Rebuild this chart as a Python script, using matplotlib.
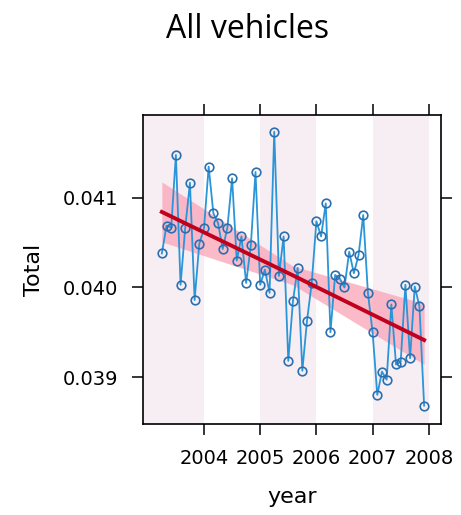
import numpy as np
import matplotlib
matplotlib.use("Agg")
import matplotlib.pyplot as plt

# ---- data (monthly means, Apr 2003 .. Dec 2007) ----
start_year = 2003.25
total = [
    0.04038, 0.04069, 0.04067, 0.04148, 0.04003, 0.04067, 0.04117, 0.03986, 0.04049, 0.04066,
    0.04135, 0.04083, 0.04072, 0.04043, 0.04067, 0.04122, 0.04030, 0.04057, 0.04005, 0.04047,
    0.04129, 0.04003, 0.04020, 0.03994, 0.04174, 0.04013, 0.04057, 0.03918, 0.03985, 0.04022,
    0.03907, 0.03963, 0.04005, 0.04074, 0.04057, 0.04094, 0.03950, 0.04014, 0.04010, 0.04000,
    0.04040, 0.04016, 0.04036, 0.04081, 0.03994, 0.03950, 0.03880, 0.03906, 0.03897, 0.03981,
    0.03914, 0.03917, 0.04003, 0.03921, 0.04001, 0.03979, 0.03868,
]
# Theil-Sen trend and its confidence band (start, middle, end)
trend_x = [2003.25, 2005.58, 2007.917]
trend_y = [0.040844, 0.040136, 0.039413]
band_upper = [0.041180, 0.040240, 0.039820]
band_lower = [0.040510, 0.040030, 0.039140]

year_ticks = [2004, 2005, 2006, 2007, 2008]
y_ticks = [0.039, 0.040, 0.041]
y_tick_labels = ["0.039", "0.040", "0.041"]
shade_years = [(2002.0, 2004.0), (2005.0, 2006.0), (2007.0, 2008.0)]

x = start_year + np.arange(len(total)) / 12.0

W, H = 461, 515
fig = plt.figure(figsize=(W / 100, H / 100), dpi=100)
ax = fig.add_axes([143 / W, 1 - 424 / H, (441 - 143) / W, (424 - 115) / H])

for a, b in shade_years:
    ax.axvspan(a, b, color="#f7eef3", lw=0, zorder=0)

ax.fill_between(trend_x, band_lower, band_upper, color="#f9a9bb", alpha=0.8, lw=0, zorder=1)
ax.plot(x, total, color="#2a95d8", lw=1.3, marker="o", ms=6.2, mfc="none",
        mec="#2c6fb0", mew=1.2, zorder=2)
ax.plot(trend_x, trend_y, color="#c0001c", lw=2.8, zorder=3)

ax.set_xlim(2002.915, 2008.217)
ax.set_ylim(0.038475, 0.041927)
ax.set_xticks(year_ticks)
ax.set_xticklabels([str(v) for v in year_ticks])
ax.set_yticks(y_ticks)
ax.set_yticklabels(y_tick_labels)

ax.tick_params(direction="out", length=8, width=1.1, pad=10, labelsize=14,
               top=True, right=True, labeltop=False, labelright=False)
for s in ax.spines.values():
    s.set_linewidth(1.2)

ax.set_xlabel("year", fontsize=16, labelpad=14)
ax.set_ylabel("Total", fontsize=16, labelpad=13)

fig.text(248 / W, 1 - 29 / H, "All vehicles", ha="center", va="center",
         fontsize=23, family=["Open Sans", "DejaVu Sans"])

fig.savefig("out.png", dpi=100)
